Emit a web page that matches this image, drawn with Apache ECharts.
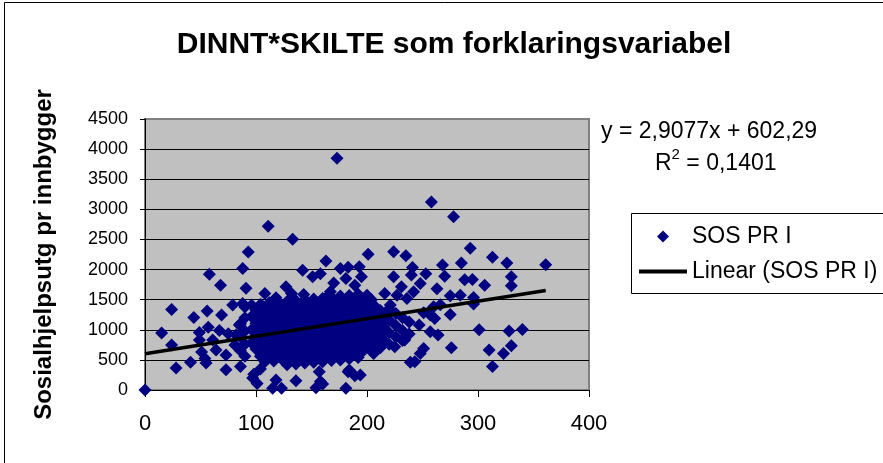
<!DOCTYPE html>
<html>
<head>
<meta charset="utf-8">
<script src="https://cdn.jsdelivr.net/npm/echarts@6/dist/echarts.min.js"></script>
<style>
html,body{margin:0;padding:0;background:#fff;}
#c{width:883px;height:463px;}
</style>
</head>
<body>
<div id="c"></div>
<script>
// ---- data ----
const titleText = 'DINNT*SKILTE som forklaringsvariabel';
const yAxisName = 'Sosialhjelpsutg pr innbygger';
const seriesName = 'SOS PR I';
const trendName = 'Linear (SOS PR I)';
const xTicks = [0, 100, 200, 300, 400];
const yTicks = [0, 500, 1000, 1500, 2000, 2500, 3000, 3500, 4000, 4500];
const trendSlope = 2.9077;
const trendIntercept = 602.29;
const rSquared = 0.1401;

// sparse points (x, y)
const sparseX = [0,173,111,133,93,201,224,235,258,278,293,313,326,361,268,285,241,163,58,88,142,151,158,176,183,193,195,181,189,170,224,240,231,68,91,127,108,132,118,143,146,164,96,105,153,170,200,216,227,236,167,206,221,242,253,270,288,295,306,330,330,263,248,275,284,296,296,260,275,251,257,261,266,247,257,264,301,328,340,330,310,323,313,276,251,248,243,239,225,234,206,205,194,24,44,56,69,79,88,15,24,49,57,67,75,49,61,64,73,51,54,28,41,55,73,86,81,85,82,98,101,115,123,118,136,154,160,157,181,184,189,97,104,158,183];
const sparseY = [0,3850,2720,2505,2290,2255,2294,2230,3120,2875,2355,2206,2110,2078,2075,2108,2035,2140,1922,2018,1988,1880,1930,2018,2040,2045,1880,1850,1741,1775,1880,1910,1713,1741,1690,1715,1603,1603,1531,1586,1465,1547,1410,1410,1410,1437,1575,1603,1575,1520,1631,1410,1410,1631,1930,1890,1830,1835,1741,1880,1730,1680,1768,1564,1575,1535,1430,1382,1255,1283,1244,1189,1415,1078,967,912,1000,978,1006,735,663,608,390,700,691,608,470,459,718,829,608,635,249,1338,1202,1313,1244,1410,1437,945,746,955,1040,987,935,829,829,663,580,630,525,365,460,450,338,392,746,1078,912,260,110,28,28,166,155,39,100,304,28,332,238,200,350,140,304];

// dense cluster points (x, y)
const clusterX = [90,90,90,90,90,86,86,86,96,96,96,100,100,100,100,104,104,104,104,104,108,108,108,108,108,112,112,112,112,112,116,116,116,116,116,120,120,120,120,120,124,124,124,124,124,128,128,128,128,128,128,132,132,132,132,132,136,136,136,136,136,136,140,140,140,140,140,144,144,144,144,144,144,148,148,148,148,148,152,152,152,152,152,152,156,156,156,156,156,160,160,160,160,160,160,164,164,164,164,164,168,168,168,168,168,168,172,172,172,172,172,176,176,176,176,176,176,180,180,180,180,180,184,184,184,184,184,184,188,188,188,188,188,192,192,192,192,192,192,196,196,196,196,196,200,200,200,200,204,204,204,204,204,208,208,208,212,212,212,212,216,216,216,220,220,220,220,226,226,226,232,232,232,238,238];
const clusterY = [560,760,980,1200,1380,650,880,1100,780,1000,1220,680,890,1110,1330,560,790,1000,1210,1420,470,680,900,1120,1320,580,790,1010,1230,1450,480,700,910,1130,1340,600,810,1020,1240,1460,500,710,930,1140,1350,420,610,820,1040,1250,1470,520,730,940,1160,1370,430,620,840,1050,1270,1480,530,740,960,1170,1390,450,640,850,1070,1280,1500,540,760,970,1190,1400,460,650,870,1080,1300,1510,560,770,990,1200,1420,470,670,880,1100,1310,1520,570,790,1000,1220,1430,490,680,900,1110,1330,1540,590,800,1020,1230,1450,500,700,910,1130,1340,1560,600,820,1030,1250,1460,520,710,930,1140,1360,1570,620,830,1050,1260,1480,540,730,940,1160,1370,1590,640,850,1060,1280,1490,750,960,1180,1390,660,870,1080,1300,1500,770,980,1200,700,890,1110,1320,810,1020,1240,760,950,1160,1350,880,1070,1270,820,990,1200,930,1130];

const fontFam = "'Liberation Sans', Arial, sans-serif";

const points = [];
for (let i = 0; i < sparseX.length; i++) points.push([sparseX[i], sparseY[i]]);
for (let i = 0; i < clusterX.length; i++) points.push([clusterX[i], clusterY[i]]);
const xMaxData = Math.max(...sparseX, ...clusterX);
const trendData = [[0, trendIntercept], [xMaxData, trendSlope * xMaxData + trendIntercept]];

const fmt = (v, d) => v.toFixed(d).replace('.', ',');
const eqText = 'y = ' + fmt(trendSlope, 4) + 'x + ' + fmt(trendIntercept, 2);

const chart = echarts.init(document.getElementById('c'), null, {renderer: 'canvas'});
chart.setOption({
  backgroundColor: '#ffffff',
  animation: false,
  textStyle: {fontFamily: fontFam},
  grid: {
    left: 145, right: 294, top: 119, bottom: 73,
    show: true, backgroundColor: '#C0C0C0', borderColor: '#808080', borderWidth: 2
  },
  xAxis: {
    type: 'value', min: xTicks[0], max: xTicks[xTicks.length - 1], interval: 100,
    axisLine: {show: true, onZero: false, lineStyle: {color: '#000', width: 1}},
    axisTick: {show: true, inside: false, length: 7, lineStyle: {color: '#000'}},
    axisLabel: {color: '#000', fontSize: 22, margin: 23, fontFamily: fontFam, formatter: v => String(v)},
    splitLine: {show: false}
  },
  yAxis: {
    type: 'value', min: yTicks[0], max: yTicks[yTicks.length - 1], interval: 500,
    name: yAxisName, nameLocation: 'middle', nameGap: 89,
    nameTextStyle: {color: '#000', fontSize: 24, fontWeight: 'bold', fontFamily: fontFam},
    axisLine: {show: true, lineStyle: {color: '#000', width: 1}},
    axisTick: {show: true, inside: false, length: 5, lineStyle: {color: '#000'}},
    axisLabel: {color: '#000', fontSize: 18, margin: 17, fontFamily: fontFam, formatter: v => String(v)},
    splitLine: {show: true, showMaxLine: false, lineStyle: {color: '#000', width: 1}}
  },
  legend: {
    orient: 'vertical', left: 639, top: 225, padding: 0, itemGap: 12,
    itemWidth: 48, itemHeight: 12, symbolKeepAspect: true,
    textStyle: {color: '#000', fontSize: 23, fontFamily: fontFam},
    data: [
      {name: seriesName, icon: 'path://M6,0L12,6L6,12L0,6Z'},
      {name: trendName, icon: 'path://M0,0L48,0L48,4L0,4Z'}
    ]
  },
  series: [
    {
      name: seriesName, type: 'scatter', symbol: 'diamond', symbolSize: 13,
      itemStyle: {color: '#000080', opacity: 1},
      data: points, z: 2
    },
    {
      name: trendName, type: 'line', data: trendData, showSymbol: false, symbol: 'none',
      lineStyle: {color: '#000', width: 3.5}, itemStyle: {color: '#000'}, z: 3
    }
  ],
  graphic: [
    {type: 'rect', shape: {x: 4.5, y: 2.5, width: 2000, height: 2000}, style: {fill: 'none', stroke: '#000', lineWidth: 1}, silent: true, z: -10},
    {type: 'rect', shape: {x: 631.5, y: 213.5, width: 400, height: 80}, style: {fill: '#fff', stroke: '#000', lineWidth: 1}, silent: true, z: -1},
    {type: 'text', x: 454, y: 45, style: {text: titleText, font: "bold 30px " + fontFam, fill: '#000', textAlign: 'center', textVerticalAlign: 'middle'}},
    {type: 'text', x: 601, y: 132, style: {text: eqText, font: "23px " + fontFam, fill: '#000', textAlign: 'left', textVerticalAlign: 'middle'}},
    {type: 'text', x: 655, y: 164, style: {
      text: '{a|R}{s|2}{a| = ' + fmt(rSquared, 4) + '}',
      fill: '#000', textAlign: 'left', textVerticalAlign: 'middle',
      rich: {a: {fontSize: 23, fontFamily: fontFam, fill: '#000'}, s: {fontSize: 15, fontFamily: fontFam, fill: '#000', padding: [0,0,18,0]}}
    }}
  ]
});
</script>
</body>
</html>
